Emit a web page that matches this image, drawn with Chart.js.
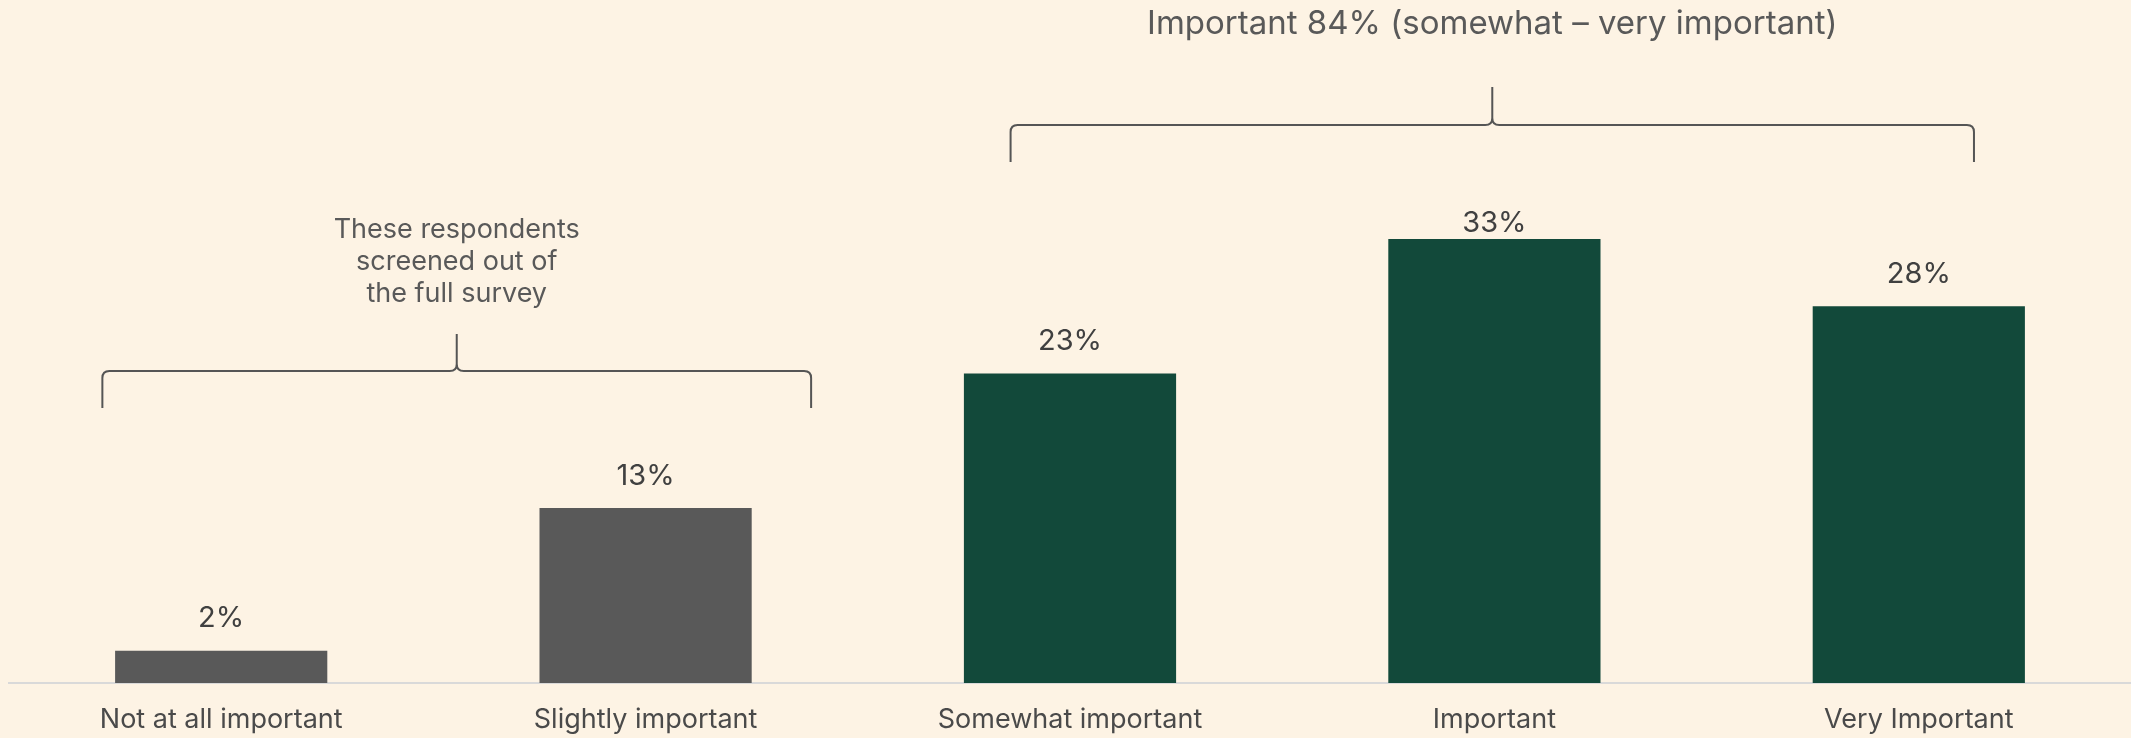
<!DOCTYPE html>
<html>
<head>
<meta charset="utf-8">
<script src="https://cdn.jsdelivr.net/npm/chart.js@4.4.1/dist/chart.umd.min.js"></script>
<style>
  html, body { margin: 0; padding: 0; background: #fdf3e4; }
  #wrap { width: 2131px; height: 738px; }
</style>
</head>
<body>
<div id="wrap"><canvas id="grafico"></canvas></div>
<script>
// dados
const categorias = ['Not at all important', 'Slightly important', 'Somewhat important', 'Important', 'Very Important'];
const valores = [2.4, 13, 23, 33, 28];
const rotulos = ['2%', '13%', '23%', '33%', '28%'];
const cores = ['#595959', '#595959', '#12493a', '#12493a', '#12493a'];

// chaves (inicio e fim em indice de categoria)
const chaveInicio = [-0.28, 1.86];
const chaveFim = [1.39, 4.13];
const chaveTexto = [
  ['These respondents', 'screened out of', 'the full survey'],
  ['Important 84% (somewhat \u2013 very important)']
];

const fonte = 'Inter, Lato, sans-serif';

function desenhaChave(ctx, x1, x2, yLinha, yPonta, yBaixo) {
  const r = 7;
  const xm = (x1 + x2) / 2;
  ctx.beginPath();
  ctx.moveTo(x1, yBaixo);
  ctx.lineTo(x1, yLinha + r);
  ctx.quadraticCurveTo(x1, yLinha, x1 + r, yLinha);
  ctx.lineTo(xm - r, yLinha);
  ctx.quadraticCurveTo(xm, yLinha, xm, yLinha - r);
  ctx.lineTo(xm, yPonta);
  ctx.moveTo(xm, yLinha - r);
  ctx.quadraticCurveTo(xm, yLinha, xm + r, yLinha);
  ctx.lineTo(x2 - r, yLinha);
  ctx.quadraticCurveTo(x2, yLinha, x2, yLinha + r);
  ctx.lineTo(x2, yBaixo);
  ctx.stroke();
}

const anotacoes = {
  id: 'anotacoes',
  afterDatasetsDraw(chart) {
    const ctx = chart.ctx;
    const xs = chart.scales.x;
    const area = chart.chartArea;
    const meta = chart.getDatasetMeta(0);
    ctx.save();

    // rotulos dos valores
    ctx.font = '29px ' + fonte;
    ctx.fillStyle = '#404040';
    ctx.textAlign = 'center';
    ctx.textBaseline = 'middle';
    meta.data.forEach((barra, i) => {
      const y = Math.max(barra.y - 32, area.top + 11);
      ctx.fillText(rotulos[i], barra.x, y);
    });

    // chaves
    ctx.strokeStyle = '#555555';
    ctx.lineWidth = 2;
    ctx.fillStyle = '#595959';
    // chave da esquerda
    let a = xs.getPixelForValue(chaveInicio[0]);
    let b = xs.getPixelForValue(chaveFim[0]);
    desenhaChave(ctx, a, b, area.top + 159, area.top + 122, area.top + 196);
    ctx.font = '27px ' + fonte;
    chaveTexto[0].forEach((linha, i) => {
      ctx.fillText(linha, (a + b) / 2, area.top + 18 + i * 32);
    });
    // chave de cima
    a = xs.getPixelForValue(chaveInicio[1]);
    b = xs.getPixelForValue(chaveFim[1]);
    desenhaChave(ctx, a, b, area.top - 87, area.top - 125, area.top - 50);
    ctx.font = '33px ' + fonte;
    ctx.fillText(chaveTexto[1][0], (a + b) / 2, area.top - 188);

    ctx.restore();
  }
};

const grafico = document.getElementById('grafico');
new Chart(grafico, {
  type: 'bar',
  data: {
    labels: categorias,
    datasets: [{
      data: valores,
      backgroundColor: cores,
      barPercentage: 0.5,
      categoryPercentage: 1.0
    }]
  },
  options: {
    responsive: true,
    maintainAspectRatio: false,
    animation: false,
    layout: { padding: { top: 212, left: 9, right: 0, bottom: 0 } },
    plugins: {
      legend: { display: false },
      tooltip: { enabled: false }
    },
    scales: {
      x: {
        grid: { display: false, drawTicks: false },
        border: { color: '#d9d9d9', width: 2 },
        ticks: {
          color: '#4a4a4a',
          padding: 21,
          font: { family: fonte, size: 27 }
        },
        afterFit(escala) { escala.height = 55; }
      },
      y: {
        display: false,
        min: 0,
        max: 35
      }
    }
  },
  plugins: [anotacoes]
});
</script>
</body>
</html>
